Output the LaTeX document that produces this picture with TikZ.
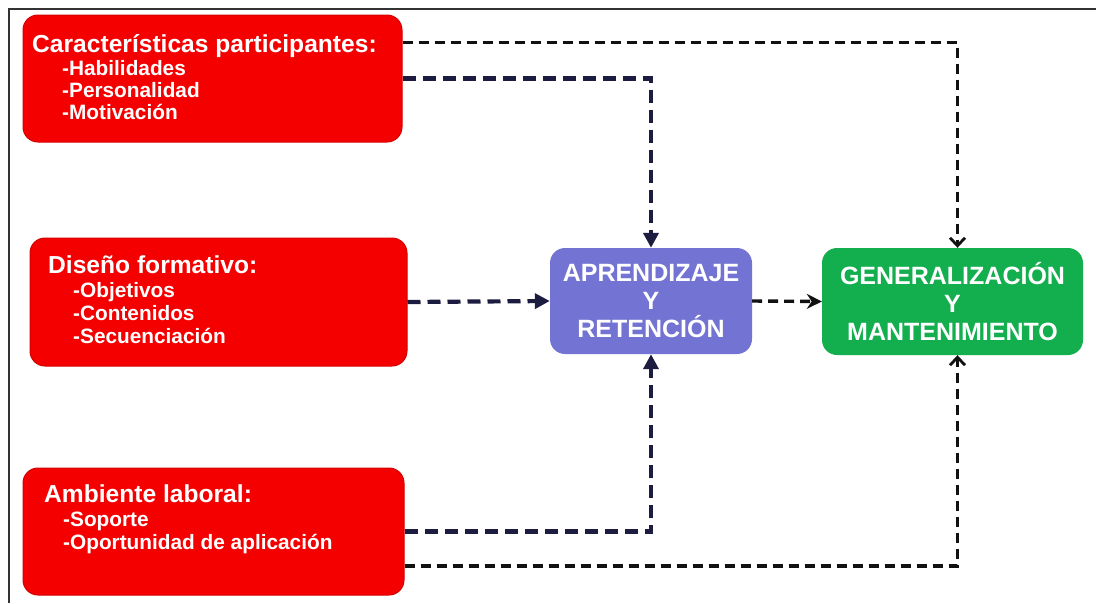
\documentclass[tikz,border=0pt]{standalone}
\usepackage{fontspec}
\setmainfont{Liberation Sans}
\usetikzlibrary{arrows.meta}
\definecolor{boxred}{HTML}{F50000}
\definecolor{edgered}{HTML}{D40000}
\definecolor{aprcol}{HTML}{7373D3}
\definecolor{gencol}{HTML}{13AE4E}
\definecolor{navy}{HTML}{1C1C40}
\definecolor{blk}{HTML}{111111}
\tikzset{
  redbox/.style={draw=edgered, line width=1pt, fill=boxred, rounded corners=15pt, inner sep=0pt},
  midbox/.style={rounded corners=15pt, inner sep=0pt, text=white, align=center,
    font=\bfseries\fontsize{25}{28}\selectfont},
  ttl/.style={anchor=base west, inner sep=0pt, text=white, font=\bfseries\fontsize{24.6}{26}\selectfont},
  itm/.style={anchor=base west, inner sep=0pt, text=white, font=\bfseries\fontsize{20.8}{22}\selectfont},
  navyline/.style={draw=navy, line width=4.2pt, dash pattern=on 13pt off 7pt, -{Triangle[length=15pt,width=15pt]}},
  blkline/.style={draw=blk, line width=3.2pt, dash pattern=on 10pt off 6pt, -{Straight Barb[length=8pt,width=15pt,line width=2.8pt]}},
  blkfill/.style={draw=blk, line width=3.4pt, dash pattern=on 10pt off 6pt, -{Stealth[length=15pt,width=15pt]}},
}
\begin{document}
\begin{tikzpicture}[x=1pt,y=-1pt]
\useasboundingbox (0,0) rectangle (1096,603);
\fill[white] (0,0) rectangle (1096,603);
\draw[line width=1.6pt, black!80] (9,603) -- (9,9) -- (1096,9);

% left boxes
\node[redbox, minimum width=379pt, minimum height=127pt] (b1) at (212.5,78.5) {};
\node[redbox, minimum width=377pt, minimum height=128pt] (b2) at (218.5,302) {};
\node[redbox, minimum width=381pt, minimum height=127pt] (b3) at (213.5,531.5) {};

\node[ttl] (t1) at (32,52) {Características participantes:};
\node[itm] (t1a) at (62,75) {-Habilidades};
\node[itm] (t1b) at (62,97) {-Personalidad};
\node[itm] (t1c) at (62,119) {-Motivación};

\node[ttl] (t2) at (48,273) {Diseño formativo:};
\node[itm] (t2a) at (73,297) {-Objetivos};
\node[itm] (t2b) at (73,320) {-Contenidos};
\node[itm] (t2c) at (73,343) {-Secuenciación};

\node[ttl] (t3) at (44,502) {Ambiente laboral:};
\node[itm] (t3a) at (63,526) {-Soporte};
\node[itm] (t3b) at (63,549) {-Oportunidad de aplicación};

% middle boxes
\node[midbox, fill=aprcol, minimum width=202pt, minimum height=106pt] (apr) at (651,301)
  {APRENDIZAJE\\Y\\RETENCIÓN};
\node[midbox, fill=gencol, minimum width=261pt, minimum height=107pt] (gen) at (952.5,301.5)
  {GENERALIZACIÓN\\Y\\MANTENIMIENTO};

% connectors
\draw[blkline] ([yshift=36pt]b1.east) -| ([xshift=5pt]gen.north);
\draw[navyline] (b1.east) -| (apr.north);
\draw[navyline] (b2.east) -- (apr.west);
\draw[blkfill] (apr.east) -- (gen.west);
\draw[navyline] (b3.east) -| (apr.south);
\draw[blkline] ([yshift=-34.5pt]b3.east) -| ([xshift=5pt]gen.south);
\end{tikzpicture}
\end{document}
